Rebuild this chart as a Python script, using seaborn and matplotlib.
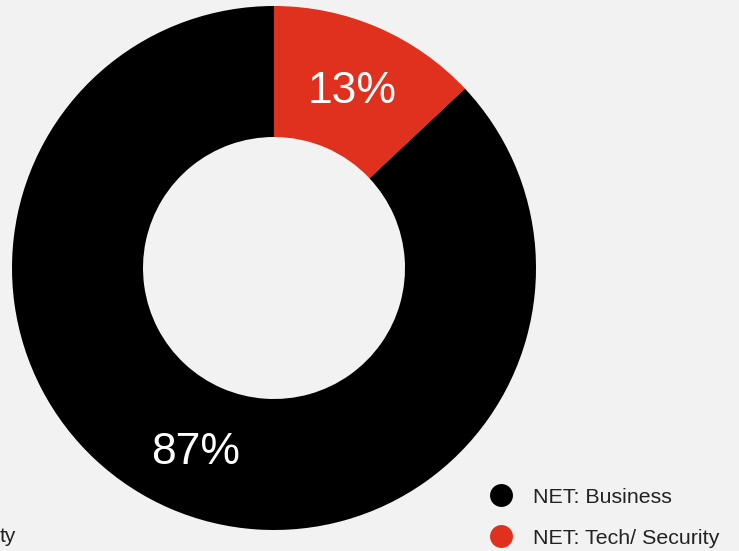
import matplotlib
matplotlib.use("Agg")
import matplotlib.pyplot as plt
from matplotlib.lines import Line2D
import seaborn as sns

categories = ["NET: Tech/ Security", "NET: Business"]
shares = [13, 87]
colors = ["#e0301e", "#000000"]
legend_order = ["NET: Business", "NET: Tech/ Security"]

sns.set_theme(style="white")
plt.rcParams["font.family"] = ["Liberation Sans", "DejaVu Sans"]

W, H = 739, 551
fig = plt.figure(figsize=(W / 100, H / 100), dpi=100, facecolor="#f2f2f2")
ax = fig.add_axes([0, 0, 1, 1])
ax.set_facecolor("#f2f2f2")

cx, cy, R = 274, H - 268, 262
wedges, _, autotexts = ax.pie(
    shares,
    colors=colors,
    startangle=90,
    counterclock=False,
    radius=R,
    center=(cx, cy),
    autopct=lambda p: f"{p:.0f}%",
    pctdistance=0.75,
    wedgeprops=dict(width=R * 0.5, linewidth=0),
    textprops=dict(color="white", fontsize=32),
    frame=True,
)
# nudge the percentage labels so the glyphs sit centred in the ring
for t in autotexts:
    x, y = t.get_position()
    t.set_position((x, y - 4))

ax.set_xlim(0, W)
ax.set_ylim(0, H)
ax.set_aspect("equal")
ax.axis("off")

handles = [
    Line2D([], [], marker="o", linestyle="", markersize=16.5,
           markerfacecolor=colors[categories.index(name)], markeredgewidth=0)
    for name in legend_order
]
leg = fig.legend(
    handles, legend_order,
    loc="lower right", bbox_to_anchor=(1.0 - 3 / W, -14 / H),
    frameon=False, fontsize=15.4, handletextpad=0.87,
    labelspacing=1.04, borderpad=0.3, handlelength=1.2,
    labelcolor="#222222",
)

fig.text(0.0, H - 537, "ty", transform=None, fontsize=15, va="center",
         ha="left", color="#222222")

fig.savefig("out.png", dpi=100, facecolor=fig.get_facecolor())
